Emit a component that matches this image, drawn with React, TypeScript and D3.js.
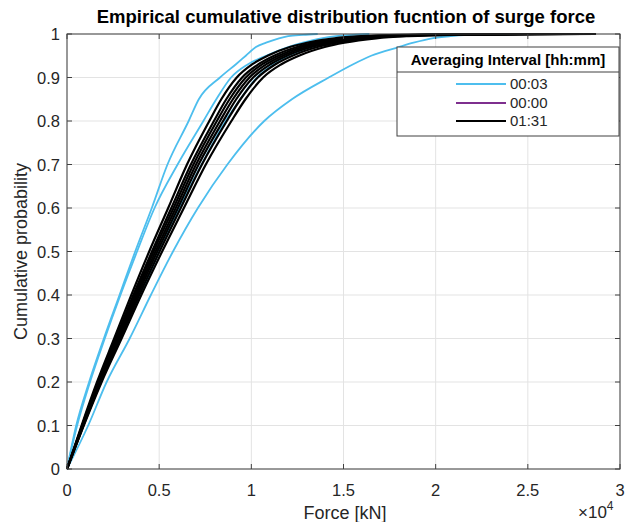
import React from "react";
import * as d3 from "d3";

// probability levels shared by all curves
const PROB = [0, 0.1, 0.2, 0.3, 0.4, 0.5, 0.6, 0.7, 0.8, 0.85, 0.9, 0.93, 0.95, 0.97, 0.98, 0.99, 0.995, 0.998, 1];

// force values (x10^4 kN) at each probability level, per curve
const BLUE_CURVES: number[][] = [
  [0, 0.05, 0.12, 0.2, 0.285, 0.37, 0.46, 0.545, 0.66, 0.715, 0.83, 0.915, 0.97, 1.025, 1.08, 1.15, 1.2, 1.28, 1.36],
  [0, 0.055, 0.125, 0.205, 0.29, 0.38, 0.475, 0.6, 0.74, 0.81, 0.89, 0.98, 1.08, 1.2, 1.28, 1.38, 1.46, 1.55, 1.64],
  [0, 0.088, 0.18, 0.29, 0.4, 0.5, 0.61, 0.73, 0.86, 0.94, 1.03, 1.12, 1.2, 1.33, 1.43, 1.6, 1.75, 1.9, 2.0],
  [0, 0.115, 0.215, 0.34, 0.455, 0.575, 0.71, 0.87, 1.07, 1.22, 1.42, 1.55, 1.65, 1.8, 1.88, 1.98, 2.08, 2.2, 2.4],
];

const BLACK_CURVES: number[][] = [
  [0, 0.079, 0.163, 0.256, 0.349, 0.446, 0.549, 0.651, 0.772, 0.837, 0.921, 1.004, 1.088, 1.209, 1.302, 1.451, 1.6, 1.81, 2.3],
  [0, 0.082, 0.168, 0.264, 0.36, 0.461, 0.566, 0.672, 0.797, 0.864, 0.95, 1.037, 1.123, 1.248, 1.344, 1.498, 1.65, 1.87, 2.5],
  [0, 0.083, 0.172, 0.27, 0.368, 0.47, 0.578, 0.686, 0.813, 0.882, 0.97, 1.058, 1.147, 1.274, 1.372, 1.529, 1.69, 1.91, 2.87],
  [0, 0.085, 0.175, 0.275, 0.375, 0.48, 0.59, 0.7, 0.83, 0.9, 0.99, 1.08, 1.17, 1.3, 1.4, 1.56, 1.72, 1.95, 2.7],
  [0, 0.087, 0.179, 0.281, 0.383, 0.49, 0.602, 0.714, 0.847, 0.918, 1.01, 1.102, 1.193, 1.326, 1.428, 1.591, 1.75, 1.99, 2.55],
  [0, 0.089, 0.183, 0.287, 0.392, 0.502, 0.617, 0.732, 0.867, 0.941, 1.035, 1.129, 1.223, 1.359, 1.463, 1.63, 1.8, 2.04, 2.45],
  [0, 0.091, 0.188, 0.296, 0.403, 0.516, 0.634, 0.753, 0.892, 0.968, 1.064, 1.161, 1.258, 1.398, 1.505, 1.677, 1.85, 2.1, 2.8],
];

const X_TICKS = [0, 0.5, 1, 1.5, 2, 2.5, 3];
const Y_TICKS = [0, 0.1, 0.2, 0.3, 0.4, 0.5, 0.6, 0.7, 0.8, 0.9, 1];
const LEGEND_LABELS = ["00:03", "00:00", "01:31"];
const LEGEND_COLORS = ["#4DBEEE", "#7E2F8E", "#000000"];

const TITLE = "Empirical cumulative distribution fucntion of surge force";
const X_LABEL = "Force [kN]";
const Y_LABEL = "Cumulative probability";
const LEGEND_TITLE = "Averaging Interval [hh:mm]";

export default function App() {
  const W = 625, H = 522;
  const L = 67, R = 620, T = 34, B = 469;
  const x = d3.scaleLinear().domain([0, 3]).range([L, R]);
  const y = d3.scaleLinear().domain([0, 1]).range([B, T]);
  const line = d3
    .line<[number, number]>()
    .x((d) => x(d[0]))
    .y((d) => y(d[1]))
    .curve(d3.curveMonotoneX);
  const toPts = (xs: number[]) => xs.map((v, i) => [v, PROB[i]] as [number, number]);
  const axisColor = "#404040";
  const textColor = "#262626";
  const font = "'Liberation Sans', Arial, Helvetica, sans-serif";
  const tickLen = 5;

  const lgX = 397, lgY = 47, lgW = 222, lgH = 89;
  const rowY = [84, 103, 121];

  return (
    <svg
      width={W}
      height={H}
      style={{ position: "absolute", left: 0, top: 0, background: "#fff" }}
      fontFamily={font}
    >
      <rect x={0} y={0} width={W} height={H} fill="#fff" />
      {/* grid */}
      {X_TICKS.map((t) => (
        <line key={"gx" + t} x1={x(t)} x2={x(t)} y1={T} y2={B} stroke="#e3e3e3" strokeWidth={1} />
      ))}
      {Y_TICKS.map((t) => (
        <line key={"gy" + t} x1={L} x2={R} y1={y(t)} y2={y(t)} stroke="#e3e3e3" strokeWidth={1} />
      ))}
      {/* curves */}
      {BLUE_CURVES.map((c, i) => (
        <path key={"b" + i} d={line(toPts(c)) || ""} fill="none" stroke="#4DBEEE" strokeWidth={1.8} />
      ))}
      {BLACK_CURVES.map((c, i) => (
        <path key={"k" + i} d={line(toPts(c)) || ""} fill="none" stroke="#000" strokeWidth={2.2} />
      ))}
      {/* axes box */}
      <rect x={L} y={T} width={R - L} height={B - T} fill="none" stroke={axisColor} strokeWidth={1} />
      {X_TICKS.map((t) => (
        <g key={"tx" + t}>
          <line x1={x(t)} x2={x(t)} y1={B} y2={B - tickLen} stroke={axisColor} />
          <line x1={x(t)} x2={x(t)} y1={T} y2={T + tickLen} stroke={axisColor} />
          <text x={x(t)} y={496} textAnchor="middle" fontSize={16.5} fill={textColor}>
            {String(t)}
          </text>
        </g>
      ))}
      {Y_TICKS.map((t) => (
        <g key={"ty" + t}>
          <line x1={L} x2={L + tickLen} y1={y(t)} y2={y(t)} stroke={axisColor} />
          <line x1={R} x2={R - tickLen} y1={y(t)} y2={y(t)} stroke={axisColor} />
          <text x={60} y={y(t) + 6} textAnchor="end" fontSize={16.5} fill={textColor}>
            {String(t)}
          </text>
        </g>
      ))}
      {/* title & labels */}
      <text x={346} y={23} textAnchor="middle" fontSize={18.5} fontWeight="bold" fill="#000">
        {TITLE}
      </text>
      <text x={345} y={519} textAnchor="middle" fontSize={18} fill={textColor}>
        {X_LABEL}
      </text>
      <text
        transform={`translate(27, ${(T + B) / 2}) rotate(-90)`}
        textAnchor="middle"
        fontSize={18}
        fill={textColor}
      >
        {Y_LABEL}
      </text>
      <text x={578} y={518} fontSize={17} fill={textColor}>
        {"\u00d710"}
        <tspan dy={-8} fontSize={12}>4</tspan>
      </text>
      {/* legend */}
      <rect x={lgX} y={lgY} width={lgW} height={lgH} fill="#fff" stroke={axisColor} strokeWidth={1} />
      <line x1={lgX} x2={lgX + lgW} y1={72} y2={72} stroke={axisColor} strokeWidth={1} />
      <text x={lgX + lgW / 2} y={65} textAnchor="middle" fontSize={15} fontWeight="bold" fill="#000">
        {LEGEND_TITLE}
      </text>
      {LEGEND_LABELS.map((lab, i) => (
        <g key={"lg" + i}>
          <line x1={456} x2={506} y1={rowY[i]} y2={rowY[i]} stroke={LEGEND_COLORS[i]} strokeWidth={2} />
          <text x={510} y={rowY[i] + 5} fontSize={15} fill={textColor}>
            {lab}
          </text>
        </g>
      ))}
    </svg>
  );
}
